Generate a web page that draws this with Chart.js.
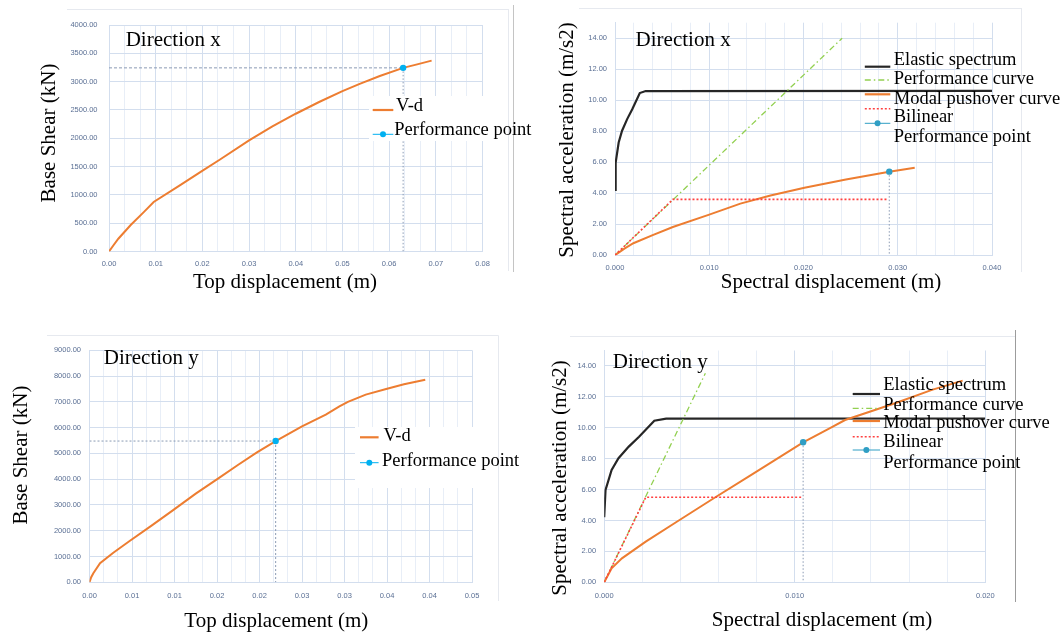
<!DOCTYPE html>
<html><head><meta charset="utf-8">
<script src="https://cdn.jsdelivr.net/npm/chart.js@4.4.1/dist/chart.umd.min.js"></script>
<style>
html,body{margin:0;padding:0;background:#fff;width:1064px;height:637px;overflow:hidden;position:relative;}
canvas{position:absolute;z-index:1;}
svg.ov{position:absolute;left:0;top:0;z-index:2;}
.t{position:absolute;white-space:nowrap;line-height:1;color:#000;font-family:"Liberation Serif","Times New Roman",serif;z-index:3;}
</style></head><body>
<canvas id="c1"></canvas><canvas id="c2"></canvas><canvas id="c3"></canvas><canvas id="c4"></canvas>
<svg class="ov" id="ov" width="1064" height="637"></svg>
<script>
// ---------- Panel 1 : V-d, direction x ----------
const p1X = [0,0.001,0.002,0.00465,0.0075,0.00957,0.015,0.0198,0.0237,0.03,0.035,0.04,0.045,0.05,0.0537,0.058,0.063,0.066,0.0691];
const p1V = [0,115,225,467,700,875,1160,1415,1620,1963,2210,2433,2640,2831,2961,3100,3243,3305,3371];
const p1Perf = [0.063, 3243];
const p1XTicks = [0,0.01,0.02,0.03,0.04,0.05,0.06,0.07,0.08];
const p1XLabels = ['0.00','0.01','0.02','0.03','0.04','0.05','0.06','0.07','0.08'];
const p1YTicks = [0,500,1000,1500,2000,2500,3000,3500,4000];
const p1YLabels = ['0.00','500.00','1000.00','1500.00','2000.00','2500.00','3000.00','3500.00','4000.00'];

// ---------- Panel 2 : ADRS, direction x ----------
const p2ElasticX = [0,0.00007,0.00039,0.00075,0.00129,0.00183,0.00263,0.00325,0.040];
const p2ElasticY = [4.21,5.97,7.27,8.03,8.78,9.42,10.46,10.59,10.6];
const p2PerfCurveX = [0,0.0241];
const p2PerfCurveY = [0,14.0];
const p2PushX = [0,0.001,0.00195,0.004,0.00614,0.01,0.0133,0.0165,0.0201,0.0245,0.0291,0.0318];
const p2PushY = [0,0.42,0.77,1.3,1.82,2.62,3.33,3.85,4.35,4.88,5.39,5.64];
const p2BilinX = [0,0.00614,0.029];
const p2BilinY = [0,3.6,3.6];
const p2Perf = [0.0291,5.39];
const p2XTicks = [0,0.01,0.02,0.03,0.04];
const p2XLabels = ['0.000','0.010','0.020','0.030','0.040'];
const p2YTicks = [0,2,4,6,8,10,12,14];
const p2YLabels = ['0.00','2.00','4.00','6.00','8.00','10.00','12.00','14.00'];

// ---------- Panel 3 : V-d, direction y ----------
const p3X = [0,0.0002,0.00045,0.00124,0.0028,0.00476,0.0073,0.0098,0.0125,0.0152,0.0175,0.0197,0.0219,0.025,0.0278,0.0294,0.0304,0.0325,0.0349,0.037,0.0395];
const p3V = [0,200,349,737,1148,1614,2200,2790,3440,4042,4560,5037,5480,6048,6502,6825,7000,7280,7500,7680,7860];
const p3Perf = [0.0219,5480];
const p3XTicks = [0,0.005,0.01,0.015,0.02,0.025,0.03,0.035,0.04,0.045];
const p3XLabels = ['0.00','0.01','0.01','0.02','0.02','0.03','0.03','0.04','0.04','0.05'];
const p3YTicks = [0,1000,2000,3000,4000,5000,6000,7000,8000,9000];
const p3YLabels = ['0.00','1000.00','2000.00','3000.00','4000.00','5000.00','6000.00','7000.00','8000.00','9000.00'];

// ---------- Panel 4 : ADRS, direction y ----------
const p4ElasticX = [0,0.00007,0.00039,0.00075,0.00129,0.00183,0.00263,0.00325,0.020];
const p4ElasticY = [4.21,5.97,7.27,8.03,8.78,9.42,10.46,10.59,10.6];
const p4PerfCurveX = [0,0.00531];
const p4PerfCurveY = [0,13.53];
const p4PushX = [0,0.00039,0.00093,0.00218,0.00379,0.00575,0.00772,0.01044,0.01185,0.01264,0.0153,0.0172,0.01881];
const p4PushY = [0,0.91,1.55,2.63,3.9,5.44,6.95,9.06,9.97,10.5,11.6,12.45,13.05];
const p4BilinX = [0,0.00218,0.0104];
const p4BilinY = [0,5.5,5.5];
const p4Perf = [0.01044,9.06];
const p4XTicks = [0,0.01,0.02];
const p4XLabels = ['0.000','0.010','0.020'];
const p4YTicks = [0,2,4,6,8,10,12,14];
const p4YLabels = ['0.00','2.00','4.00','6.00','8.00','10.00','12.00','14.00'];

// ---------- styles ----------
const GRID = '#d3deee', GRIDMINOR = '#e8eef7', TICKC = '#5a6f94';
const ORANGE = '#ed7d31', CYAN = '#00b0f0', TEAL = '#2f9ec4', BLACK = '#262626', GREEN = '#92d050', RED = '#ff4040', GUIDE = '#8a9ab3';

function pts(xs, ys){ return xs.map((x,i)=>({x:x, y:ys[i]})); }
function line(xs, ys, color, width, dash){
  return {data:pts(xs,ys), showLine:true, borderColor:color, borderWidth:width, borderDash:dash||[], pointRadius:0, fill:false, tension:0};
}
function point(p, color){
  return {data:[{x:p[0],y:p[1]}], showLine:false, pointRadius:3.2, pointBackgroundColor:color, pointBorderColor:color, pointBorderWidth:0};
}

function makeChart(id, box, xT, xL, minorN, yT, yL, yMax, datasets, xPad, yPad){
  const cx = Math.floor(box.L - 60), cy = Math.floor(box.T - 15);
  const W = box.L - cx, padT = box.T - cy;
  const w = Math.ceil(box.R - cx + 25), padR = cx + w - box.R;
  const H = 30, h = Math.ceil(box.B - cy + H), padB = h - H - (box.B - cy);
  const cv = document.getElementById(id);
  cv.width = w; cv.height = h;
  cv.style.left = cx + 'px'; cv.style.top = cy + 'px';
  cv.style.width = w + 'px'; cv.style.height = h + 'px';
  const step = (xT[1]-xT[0]) / minorN;
  const xVals = [], xLab = [];
  const nMinor = (xT.length-1)*minorN;
  for (let i=0;i<=nMinor;i++){ xVals.push(xT[0]+i*step); xLab.push(i%minorN===0 ? xL[i/minorN] : ''); }
  const tickFont = {family:'"Liberation Sans", Arial, sans-serif', size:7.5};
  return new Chart(cv, {
    type:'scatter',
    data:{datasets:datasets},
    options:{
      responsive:false, animation:false, devicePixelRatio:1,
      layout:{padding:{left:0, top:padT, right:padR, bottom:padB}},
      plugins:{legend:{display:false}, tooltip:{enabled:false}},
      scales:{
        x:{type:'linear', min:xT[0], max:xT[xT.length-1],
           afterFit:(s)=>{ s.height = H; },
           afterBuildTicks:(s)=>{ s.ticks = xVals.map(v=>({value:v})); },
           ticks:{autoSkip:false, maxRotation:0, minRotation:0, padding:xPad, color:TICKC, font:tickFont,
                  callback:(v,i)=>xLab[i]},
           grid:{drawTicks:false, lineWidth:1, color:(c)=> (c.index % minorN === 0 ? GRID : GRIDMINOR)},
           border:{display:true, color:GRID}
        },
        y:{type:'linear', min:yT[0], max:yMax,
           afterFit:(s)=>{ s.width = W; },
           afterBuildTicks:(s)=>{ s.ticks = yT.map(v=>({value:v})); },
           ticks:{autoSkip:false, padding:yPad, color:TICKC, font:tickFont, callback:(v,i)=>yL[i]},
           grid:{drawTicks:false, lineWidth:1, color:GRID},
           border:{display:true, color:GRID}
        }
      }
    }
  });
}

// Panel 1
makeChart('c1', {L:109, R:482.5, T:24.5, B:251.5}, p1XTicks, p1XLabels, 3, p1YTicks, p1YLabels, 4000, [
  point(p1Perf, CYAN),
  line(p1X, p1V, ORANGE, 2),
  line([0, p1Perf[0]], [p1Perf[1], p1Perf[1]], GUIDE, 1, [3,2]),
  line([p1Perf[0], p1Perf[0]], [p1Perf[1], 0], GUIDE, 1, [1.5,2])
], 8, 11.5);

// Panel 2
makeChart('c2', {L:615, R:992, T:22.7, B:255.2}, p2XTicks, p2XLabels, 5, p2YTicks, p2YLabels, 15, [
  point(p2Perf, TEAL),
  line(p2BilinX, p2BilinY, RED, 1.6, [2,2]),
  line(p2PushX, p2PushY, ORANGE, 2),
  line(p2PerfCurveX, p2PerfCurveY, GREEN, 1.3, [6,3,1.5,3]),
  line(p2ElasticX, p2ElasticY, BLACK, 2.2),
  line([p2Perf[0], p2Perf[0]], [p2Perf[1], 0], GUIDE, 1, [1.5,2])
], 8, 8);

// Panel 3
makeChart('c3', {L:89.5, R:472, T:350.3, B:582.3}, p3XTicks, p3XLabels, 3, p3YTicks, p3YLabels, 9000, [
  point(p3Perf, CYAN),
  line(p3X, p3V, ORANGE, 2),
  line([0, p3Perf[0]], [p3Perf[1], p3Perf[1]], GUIDE, 1, [2,2]),
  line([p3Perf[0], p3Perf[0]], [p3Perf[1], 0], GUIDE, 1, [2,2])
], 9.5, 8.5);

// Panel 4
makeChart('c4', {L:604.2, R:985.3, T:350.5, B:582.3}, p4XTicks, p4XLabels, 5, p4YTicks, p4YLabels, 15, [
  point(p4Perf, TEAL),
  line(p4BilinX, p4BilinY, RED, 1.6, [2,2]),
  line(p4PushX, p4PushY, ORANGE, 2),
  line(p4PerfCurveX, p4PerfCurveY, GREEN, 1.3, [6,3,1.5,3]),
  line(p4ElasticX, p4ElasticY, BLACK, 2.2),
  line([p4Perf[0], p4Perf[0]], [p4Perf[1], 0], GUIDE, 1, [1.5,2])
], 8.7, 8);

// ---------- overlay: frames, legend boxes and legend samples ----------
const NS = 'http://www.w3.org/2000/svg';
const ov = document.getElementById('ov');
function el(tag, attrs){ const e = document.createElementNS(NS, tag); for (const k in attrs) e.setAttribute(k, attrs[k]); ov.appendChild(e); return e; }
function ln(x1,y1,x2,y2,color,w,dash){ const a={x1:x1,y1:y1,x2:x2,y2:y2,stroke:color,'stroke-width':w}; if(dash) a['stroke-dasharray']=dash; return el('line',a); }
const FR = '#e6e9ef';
ln(67,9.5,509,9.5,FR,1); ln(508.5,9.5,508.5,271,FR,1);
ln(579,8.5,1022,8.5,FR,1); ln(1021.5,8.5,1021.5,272,FR,1);
ln(47,335.5,498.5,335.5,FR,1); ln(498.5,335.5,498.5,601,FR,1);
ln(570,336.5,1015,336.5,FR,1);
ln(513.5,5,513.5,272,'#c4c4c4',1);
ln(1015.5,330,1015.5,602,'#9c9c9c',1);
el('rect',{x:369,y:96,width:114,height:45,fill:'#fff'});
el('rect',{x:355,y:427,width:118,height:61,fill:'#fff'});
function sample(x1,x2,y,kind,color){
  if (kind==='solid') ln(x1,y,x2,y,color,2.2);
  else if (kind==='dashdot') ln(x1,y,x2,y,color,1.3,'6 3 1.5 3');
  else if (kind==='dot') ln(x1,y,x2,y,color,1.6,'2 2');
  else if (kind==='marker'){ ln(x1,y,x2,y,color,1); el('circle',{cx:(x1+x2)/2,cy:y,r:3,fill:color}); }
}
sample(372.7,393.3,110,'solid',ORANGE);
sample(372.7,393.3,134.3,'marker',CYAN);
sample(360,378.6,437.3,'solid',ORANGE);
sample(360,378.6,462.7,'marker',CYAN);
sample(864.8,890.3,66.7,'solid',BLACK);
sample(864.8,890.3,80,'dashdot',GREEN);
sample(864.8,890.3,94.3,'solid',ORANGE);
sample(864.8,890.3,108.7,'dot',RED);
sample(864.8,890.3,123.3,'marker',TEAL);
sample(852.7,880,394,'solid',BLACK);
sample(852.7,880,408.3,'dashdot',GREEN);
sample(852.7,880,421,'solid',ORANGE);
sample(852.7,880,436.7,'dot',RED);
sample(852.7,880,450,'marker',TEAL);

// ---------- text ----------
function txt(s, x, y, size, mode){
  const d = document.createElement('div');
  d.className = 't'; d.textContent = s; d.style.fontSize = size + 'px';
  if (mode === 'R'){ d.style.left = x+'px'; d.style.top = y+'px'; d.style.transform = 'translate(-50%,-50%) rotate(-90deg)'; }
  else if (mode === 'C'){ d.style.left = x+'px'; d.style.top = (y - 0.8375*size)+'px'; d.style.transform = 'translateX(-50%)'; }
  else { d.style.left = x+'px'; d.style.top = (y - 0.8375*size)+'px'; }
  document.body.appendChild(d);
}
txt('Direction x', 125.7, 46.7, 21, 'L');
txt('Direction x', 635.6, 46.7, 21, 'L');
txt('Direction y', 103.8, 364.6, 21, 'L');
txt('Direction y', 612.8, 368.9, 21, 'L');
txt('Top displacement (m)', 285, 289, 21, 'C');
txt('Spectral displacement (m)', 831, 288.9, 21, 'C');
txt('Top displacement (m)', 276.3, 627.2, 21, 'C');
txt('Spectral displacement (m)', 822, 626.6, 21, 'C');
txt('Base Shear (kN)', 48, 133.3, 21, 'R');
txt('Spectral acceleration (m/s2)', 566.3, 139.7, 21, 'R');
txt('Base Shear (kN)', 20.2, 455, 21, 'R');
txt('Spectral acceleration (m/s2)', 558.5, 477.5, 21, 'R');
const LG = 18.5;
txt('V-d', 396, 111, LG, 'L');
txt('Performance point', 394.3, 135, LG, 'L');
txt('V-d', 383.6, 441, LG, 'L');
txt('Performance point', 382, 466.7, LG, 'L');
const leg2 = ['Elastic spectrum','Performance curve','Modal pushover curve','Bilinear','Performance point'];
[65,84.3,104,122.3,142.3].forEach((b,i)=>txt(leg2[i], 893.7, b, LG, 'L'));
[390,410,428.3,447.7,468.3].forEach((b,i)=>txt(leg2[i], 883.3, b, LG, 'L'));
</script>
</body></html>
